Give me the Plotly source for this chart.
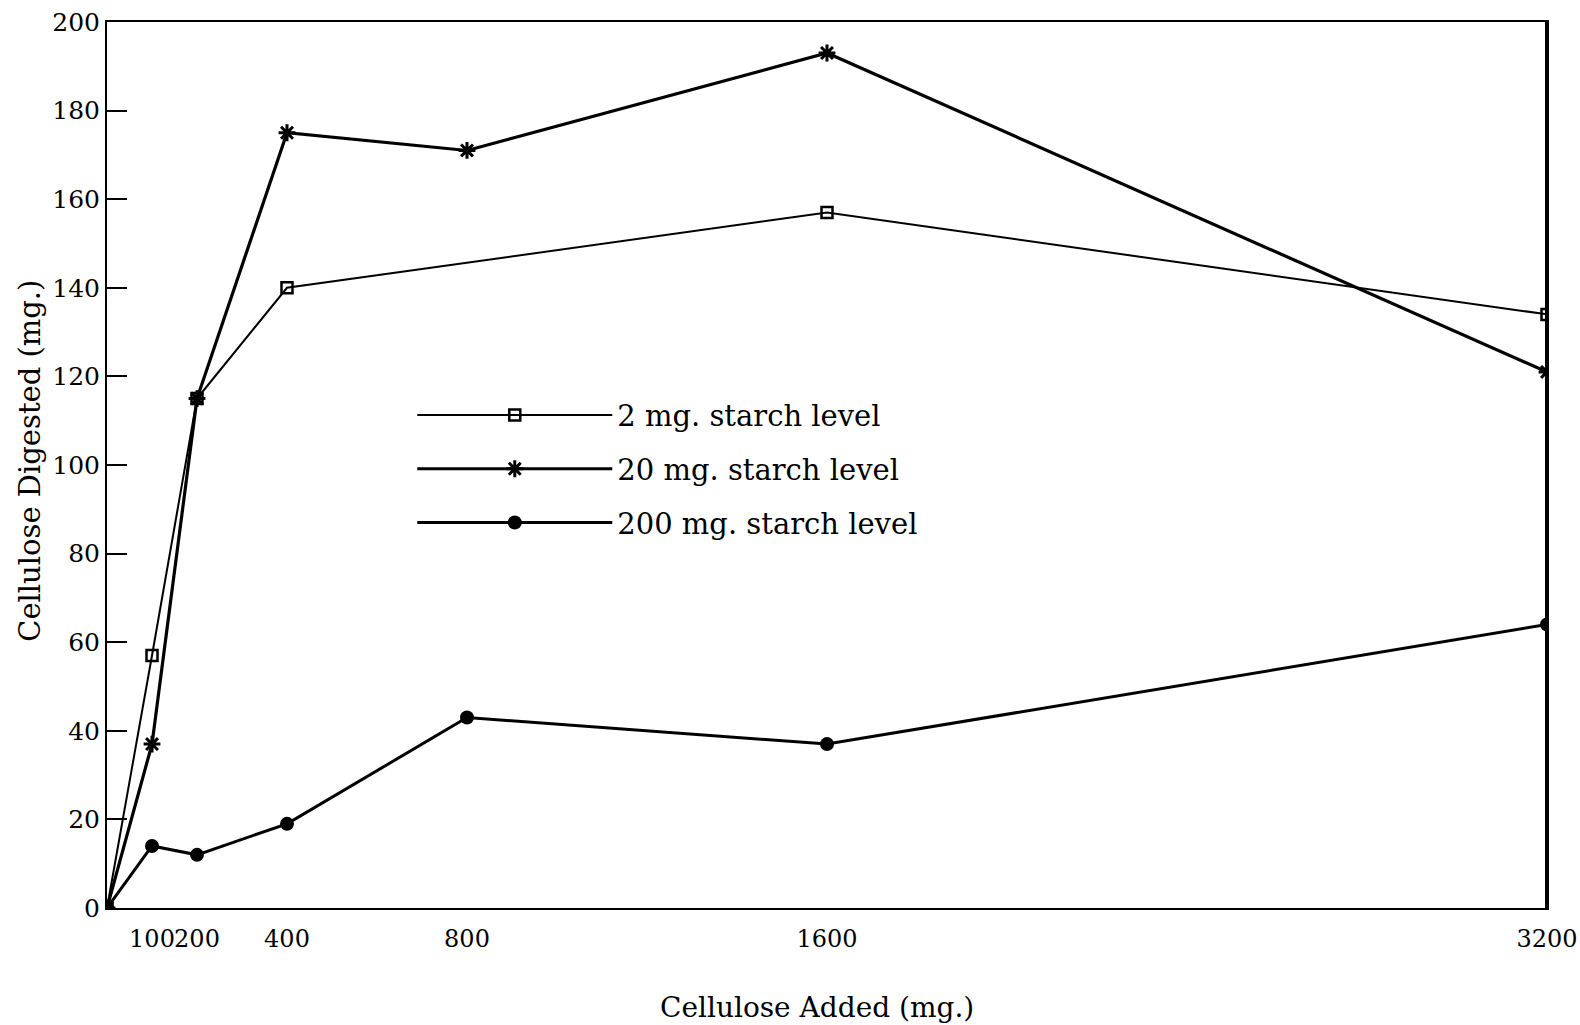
import plotly.graph_objects as go

cellulose_added = [0, 100, 200, 400, 1600, 3200]
starch_2mg = [0, 57, 115, 140, 157, 134]

cellulose_added_20 = [0, 100, 200, 400, 800, 1600, 3200]
starch_20mg = [0, 37, 115, 175, 171, 193, 121]

cellulose_added_200 = [0, 100, 200, 400, 800, 1600, 3200]
starch_200mg = [0, 14, 12, 19, 43, 37, 64]

x_ticks = [100, 200, 400, 800, 1600, 3200]
y_ticks = [0, 20, 40, 60, 80, 100, 120, 140, 160, 180, 200]

FONT = "DejaVu Serif"

fig = go.Figure()
fig.add_trace(go.Scatter(
    x=cellulose_added, y=starch_2mg, mode="lines+markers",
    name="2 mg. starch level", legendgroup="a",
    line=dict(color="black", width=2),
    marker=dict(symbol="square-open", size=11, color="black", line=dict(width=2.5)),
))
fig.add_trace(go.Scatter(
    x=cellulose_added_20, y=starch_20mg, mode="lines+markers",
    name="20 mg. starch level", legendgroup="b",
    line=dict(color="black", width=3.2),
    marker=dict(symbol="asterisk-open", size=14, color="black", line=dict(width=3, color="black")),
))
fig.add_trace(go.Scatter(
    x=cellulose_added_200, y=starch_200mg, mode="lines+markers",
    name="200 mg. starch level", legendgroup="c",
    line=dict(color="black", width=3),
    marker=dict(symbol="circle", size=14, color="black"),
))

fig.update_layout(
    width=1580, height=1025,
    paper_bgcolor="white", plot_bgcolor="white",
    margin=dict(l=107, r=33, t=22, b=117),
    font=dict(family=FONT, size=24, color="black"),
    showlegend=True,
    legend=dict(
        x=0.212, y=0.585, xanchor="left", yanchor="top",
        font=dict(family=FONT, size=29, color="black"),
        traceorder="grouped", tracegroupgap=13,
        itemwidth=195, bgcolor="rgba(0,0,0,0)",
    ),
    xaxis=dict(
        range=[0, 3200], tickvals=x_ticks, ticktext=[str(v) for v in x_ticks],
        showgrid=False, zeroline=False, showline=True, linecolor="black", linewidth=2,
        mirror=True, ticks="outside", ticklen=8, tickcolor="rgba(0,0,0,0)",
        tickangle=0, automargin=False,
        tickfont=dict(family=FONT, size=24, color="black"),
    ),
    yaxis=dict(
        range=[0, 200], tickvals=y_ticks, automargin=False,
        showgrid=False, zeroline=False, showline=True, linecolor="black", linewidth=2,
        mirror=True, ticks="inside", ticklen=20, tickwidth=2, tickcolor="black",
        tickfont=dict(family=FONT, size=25, color="black"),
    ),
    annotations=[
        dict(text="Cellulose Digested (mg.)", textangle=-90, xref="paper", yref="paper",
             x=-0.054, y=0.505, xanchor="center", yanchor="middle", showarrow=False,
             font=dict(family=FONT, size=29, color="black")),
        dict(text="Cellulose Added (mg.)", xref="paper", yref="paper",
             x=0.493, y=-0.112, xanchor="center", yanchor="middle", showarrow=False,
             font=dict(family=FONT, size=28, color="black")),
    ],
    shapes=[
        dict(type="line", xref="paper", yref="paper", x0=1, x1=1, y0=0, y1=1,
             line=dict(color="black", width=4)),
    ],
)

fig.write_html(
    "out.html",
    config={"displayModeBar": False},
    post_script="document.body.style.margin='0';document.body.style.overflow='hidden';",
)
